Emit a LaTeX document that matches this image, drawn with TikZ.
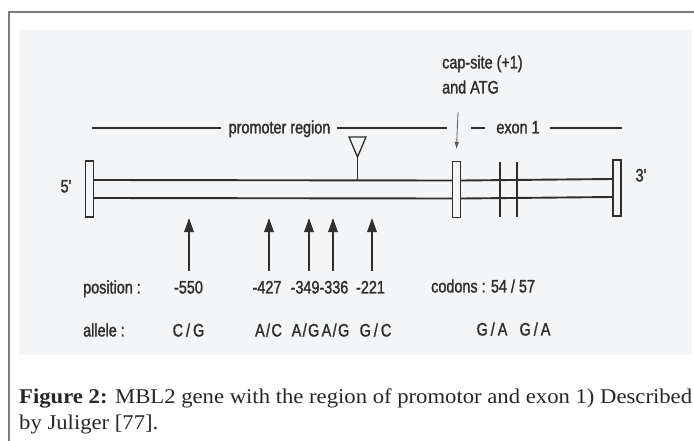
\documentclass[tikz,border=0pt]{standalone}
\usepackage{fontspec}
\setmainfont{Liberation Serif}
\newfontfamily\capfont[FakeStretch=1.08]{Liberation Serif}
\newfontfamily\figfont[FakeStretch=0.8,FakeBold=1.5]{Liberation Sans}
\usetikzlibrary{arrows.meta}
\definecolor{ink}{HTML}{2E2E2E}
\definecolor{scan}{HTML}{F3F5F6}
\definecolor{framegray}{HTML}{7A7A7A}
\newcommand{\al}[3][1.4pt]{#2\kern#1/\kern#1#3}
\tikzset{
  lbl/.style={font=\figfont\fontsize{18}{20}\selectfont, text=ink, inner sep=0pt, text height=12.9pt, text depth=0pt},
  endbox/.style={draw=ink, line width=1.4pt, fill=scan, minimum width=8pt, minimum height=56pt, inner sep=0pt},
  strand/.style={draw=ink, line width=1.9pt},
  region/.style={draw=ink, line width=1.9pt},
  snp/.style={draw=ink, line width=1.6pt, -{Triangle[length=14pt,width=9.5pt]}},
  caparrow/.style={draw=ink!80, line width=.8pt, -{Triangle[length=7pt,width=4pt]}},
}
\begin{document}
\begin{tikzpicture}[x=1pt,y=-1pt]
  \useasboundingbox (0,0) rectangle (694,441);
  % page frame and scanned area
  \draw[framegray, line width=1.3pt] (9,441) -- (9,12) -- (694,12);
  \fill[scan] (19,30) rectangle (692,355);
  % gene boxes and strands
  \node[endbox] (lbox) at (89.5,189) {};
  \node[endbox] (mbox) at (456.5,189.5) {};
  \node[endbox] (rbox) at (617,188) {};
  \draw[strand] ([yshift=9pt]lbox.east) -- ([yshift=9pt]mbox.west);
  \draw[strand] ([yshift=-9pt]lbox.east) -- ([yshift=-9pt]mbox.west);
  \draw[strand] ([yshift=9pt]mbox.east) -- ([yshift=9pt]rbox.west);
  \draw[strand] ([yshift=-9pt]mbox.east) -- ([yshift=-9pt]rbox.west);
  \foreach \x in {500,517} \draw[ink, line width=1.3pt] (\x,162) -- (\x,217);
  \node[lbl] (five) at (66,186) {5'};
  \node[lbl] (three) at (641,175) {3'};
  % insertion triangle
  \coordinate (ins) at (357.5,157);
  \draw[ink, line width=1.3pt, fill=scan] (349,137) -- (366,137) -- (ins) -- cycle;
  \draw[ink, line width=1.3pt] (ins) -- (357.5,181);
  % promoter and exon
  \node[lbl] (promoter) at (279.5,127) {promoter region};
  \coordinate (prL) at (92,128);
  \coordinate (prR) at (447,128);
  \draw[region] (prL) -- ([xshift=-7pt,yshift=-1pt]promoter.west);
  \draw[region] ([xshift=6pt,yshift=-1pt]promoter.east) -- (prR);
  \node[lbl] (exon) at (518,127) {exon 1};
  \coordinate (exR) at (622,128);
  \draw[region] ([xshift=-25pt,yshift=-1pt]exon.west) -- ([xshift=-11pt,yshift=-1pt]exon.west);
  \draw[region] ([xshift=10pt,yshift=-1pt]exon.east) -- (exR);
  \node[lbl, anchor=west] (capsite) at (442,62) {cap-site (+1)};
  \node[lbl, anchor=west] (atg) at (442,87) {and ATG};
  \coordinate (capT) at (458,112);
  \draw[caparrow] (capT) -- ([yshift=12pt]mbox.north);
  % polymorphisms
  \foreach \x/\n in {189/a,269/b,309/c,333/d,372/e}{
    \coordinate (t\n) at (\x,271);
    \coordinate (h\n) at (\x,218);
    \draw[snp] (t\n) -- (h\n);
  }
  \node[lbl, anchor=west] (position) at (83,287) {position :};
  \node[lbl] (p550) at (188.5,287) {-550};
  \node[lbl] (p427) at (267,287) {-427};
  \node[lbl] (p349) at (319.5,287) {-349-336};
  \node[lbl] (p221) at (370.5,287) {-221};
  \node[lbl, anchor=west] (codons) at (431,286) {codons : 54 / 57};
  \node[lbl, anchor=west] (allele) at (83,330) {allele :};
  \node[lbl] (aCG) at (188.5,330) {\al[3pt] CG};
  \node[lbl] (aAC) at (268.5,330) {\al AC};
  \node[lbl] (aAG) at (305.5,330) {\al AG};
  \node[lbl] (aAGb) at (335.5,330) {\al AG};
  \node[lbl] (aGC) at (375.5,330) {\al[3pt] GC};
  \node[lbl] (aGA) at (492,329) {\al[3pt] GA};
  \node[lbl] (aGAb) at (535,329) {\al[3pt] GA};
  % caption
  \node[anchor=north west, align=left, inner sep=0pt, text=black!85,
        font=\capfont\fontsize{21}{26}\selectfont] (caption) at (19,389)
    {\textbf{Figure 2:} MBL2 gene with the region of promotor and exon 1) Described\\by Juliger [77].};
\end{tikzpicture}
\end{document}
